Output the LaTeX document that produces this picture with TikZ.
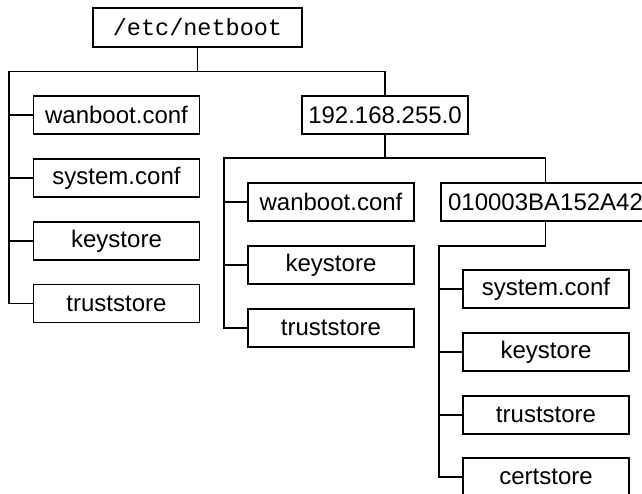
\documentclass[tikz,border=0pt]{standalone}
\usepackage{fontspec}
\setmainfont{Liberation Sans}
\setmonofont{Liberation Mono}
\begin{document}
\begin{tikzpicture}[x=1pt,y=-1pt,line width=1.1pt,
  filebox/.style={draw,rectangle,minimum width=166pt,minimum height=38pt,inner sep=0pt,
    font=\fontsize{24}{28}\selectfont},
  wire/.style={draw,line width=1.1pt}]
\useasboundingbox (0,0) rectangle (642,494);
\clip (0,0) rectangle (642,494);
\node[filebox,minimum width=209pt,minimum height=39pt,font=\ttfamily\fontsize{23.5}{28}\selectfont] (root) at (197.5,27.5) {/etc/netboot};
\node[filebox] (A1) at (116.5,115) {wanboot.conf};
\node[filebox] (A2) at (116.5,178) {system.conf};
\node[filebox] (A3) at (116.5,241) {keystore};
\node[filebox] (A4) at (116.5,303.5) {truststore};
\node[filebox] (B) at (385,115) {192.168.255.0};
\node[filebox] (B1) at (331,202) {wanboot.conf};
\node[filebox] (B2) at (331,265) {keystore};
\node[filebox] (B3) at (331,328) {truststore};
\node[filebox,minimum width=209pt] (C) at (545.5,202) {010003BA152A42};
\node[filebox] (C1) at (546,289) {system.conf};
\node[filebox] (C2) at (546,352) {keystore};
\node[filebox] (C3) at (546,415) {truststore};
\node[filebox] (C4) at (546,477) {certstore};
\coordinate (L) at (9,71.5);
\coordinate (M) at (224,158);
\coordinate (N) at (439,246);
\path[wire] (root.south) -- (root.south |- L);
\path[wire] (A4.west) -| (L) -| (B.north);
\foreach \n in {A1,A2,A3} \path[wire] (\n.west) -- (\n.west -| L);
\path[wire] (B.south) -- (B.south |- M);
\path[wire] (B3.west) -| (M) -| (C.north);
\foreach \n in {B1,B2} \path[wire] (\n.west) -- (\n.west -| M);
\path[wire] (C.south) |- (N) |- (C4.west);
\foreach \n in {C1,C2,C3} \path[wire] (\n.west) -- (\n.west -| N);
\end{tikzpicture}
\end{document}
